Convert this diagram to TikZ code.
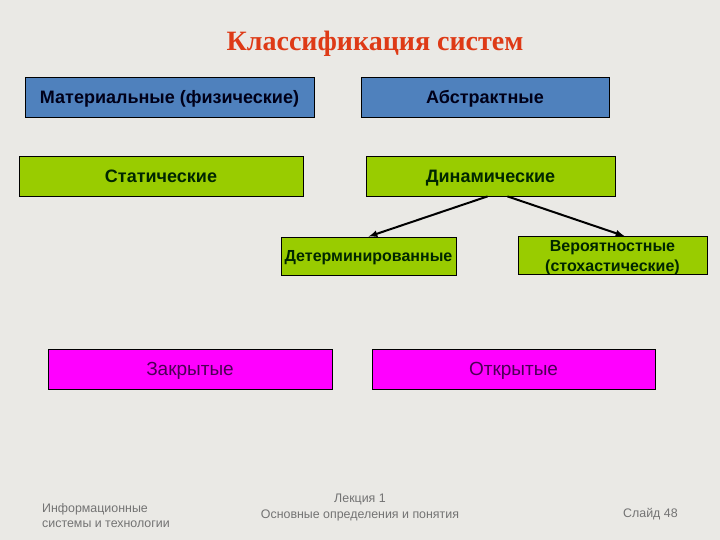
\documentclass[tikz,border=0pt]{standalone}
\usepackage{fontspec}
\setmainfont{Liberation Sans}
\newfontfamily\titlefont{Liberation Serif}
\usetikzlibrary{arrows}
\definecolor{slidebg}{RGB}{234,233,229}
\definecolor{boxblue}{RGB}{79,129,189}
\definecolor{boxgreen}{RGB}{153,204,0}
\definecolor{boxpink}{RGB}{255,0,255}
\definecolor{txtpink}{RGB}{75,0,85}
\definecolor{titlered}{RGB}{222,58,22}
\definecolor{footgray}{RGB}{115,115,115}

\begin{document}
\begin{tikzpicture}[x=1pt, y=-1pt,
  kind/.style = {draw, line width=.8pt, inner sep=0pt, align=center},
  bluebox/.style = {kind, fill=boxblue, text=black!90!blue, text height=12.9pt, text depth=0pt, font=\bfseries\fontsize{18}{20}\selectfont},
  greenbox/.style = {kind, fill=boxgreen, text=black!85!green, text height=12.9pt, text depth=0pt, font=\bfseries\fontsize{18}{20}\selectfont},
  smallgreen/.style = {kind, fill=boxgreen, text=black!85!green, font=\bfseries\fontsize{16}{20}\selectfont},
  pinkbox/.style = {kind, fill=boxpink, text=txtpink, text height=13.6pt, text depth=0pt, font=\fontsize{19}{21}\selectfont},
  foot/.style = {text=footgray, font=\fontsize{12.4}{15.5}\selectfont, inner sep=0pt}]
\fill[slidebg] (0,0) rectangle (720,540);
\useasboundingbox (0,0) rectangle (720,540);

\node[text=titlered, font=\titlefont\bfseries\fontsize{28}{32}\selectfont] (title) at (375,44) {Классификация систем};

% first row
\node[bluebox, minimum width=289pt, minimum height=40pt] (mat) at (169.5,97) {Материальные (физические)};
\node[bluebox, minimum width=248pt, minimum height=40pt] (abs) at (485,97) {Абстрактные};

% second row
\node[greenbox, minimum width=284pt, minimum height=40pt] (stat) at (161,176) {Статические};
\node[greenbox, minimum width=249pt, minimum height=40pt] (din) at (490.5,176) {Динамические};
\node[smallgreen, text height=11.5pt, text depth=0pt, minimum width=175pt, minimum height=38pt] (det) at (368.5,256) {Детерминированные};
\node[smallgreen, text height=35.2pt, text depth=2.8pt, minimum width=189pt, minimum height=38pt] (ver) at (612.5,255.5) {Вероятностные\\(стохастические)};
\draw[-latex, line width=2pt] (din.south) ++(-3,0) -- (det.north);
\draw[-latex, line width=2pt] (din.south) ++(17,0) -- ([xshift=12pt]ver.north);

% third row
\node[pinkbox, minimum width=284pt, minimum height=40pt] (zak) at (190,369) {Закрытые};
\node[pinkbox, minimum width=283pt, minimum height=40pt] (otk) at (513.5,369) {Открытые};

% footer
\node[foot, align=left, anchor=west] (inf) at (42,515.5) {Информационные\\системы и технологии};
\node[foot, align=center] (lek) at (360,507.5) {Лекция 1\\Основные определения и понятия};
\node[foot, anchor=west] (sl) at (623,514) {Слайд 48};
\end{tikzpicture}
\end{document}
